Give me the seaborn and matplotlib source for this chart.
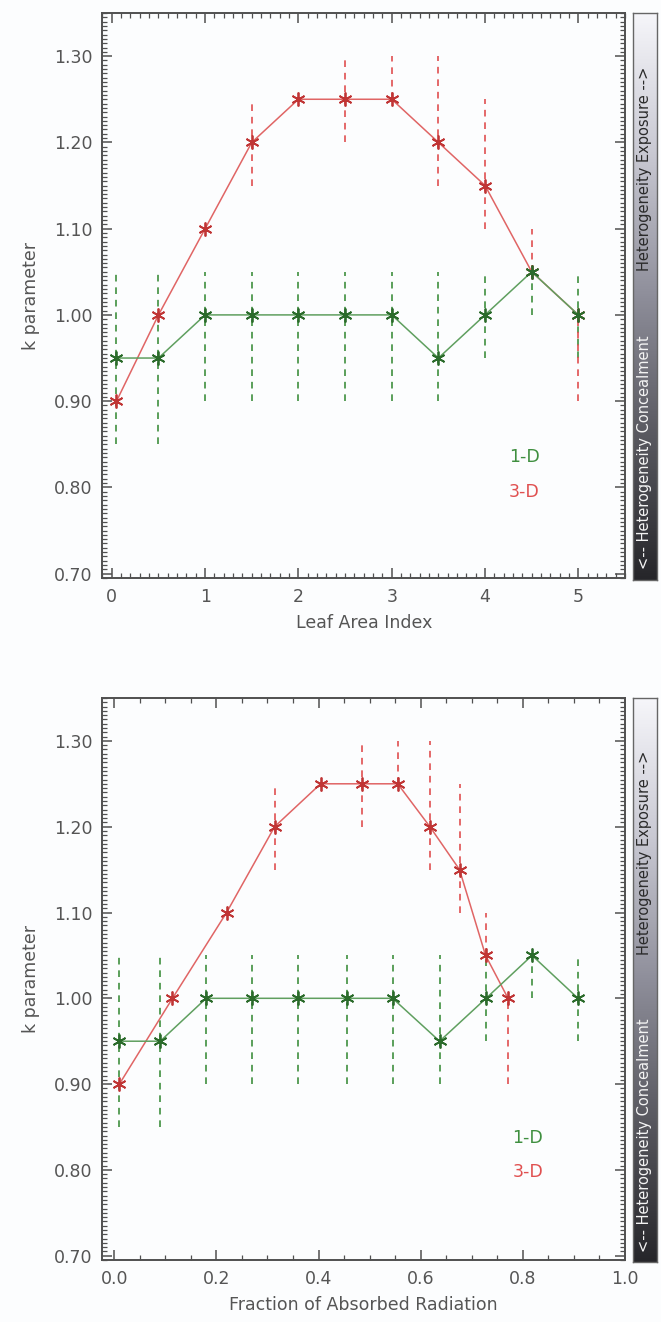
import numpy as np
import pandas as pd
import matplotlib
matplotlib.use("Agg")
import matplotlib.pyplot as plt
from matplotlib.ticker import MultipleLocator, FormatStrFormatter
from matplotlib.colors import LinearSegmentedColormap
import seaborn as sns

# ---------------- data ----------------
lai = [0.05, 0.5, 1.0, 1.5, 2.0, 2.5, 3.0, 3.5, 4.0, 4.5, 5.0]
k1d = [0.95, 0.95, 1.00, 1.00, 1.00, 1.00, 1.00, 0.95, 1.00, 1.05, 1.00]
k1d_lo = [0.85, 0.85, 0.90, 0.90, 0.90, 0.90, 0.90, 0.90, 0.95, 1.00, 0.95]
k1d_hi = [1.05, 1.05, 1.05, 1.05, 1.05, 1.05, 1.05, 1.05, 1.05, 1.05, 1.05]
k3d = [0.90, 1.00, 1.10, 1.20, 1.25, 1.25, 1.25, 1.20, 1.15, 1.05, 1.00]
k3d_lo = [0.90, 1.00, 1.10, 1.15, 1.25, 1.20, 1.25, 1.15, 1.10, 1.05, 0.90]
k3d_hi = [0.90, 1.00, 1.10, 1.25, 1.25, 1.30, 1.30, 1.30, 1.25, 1.10, 1.00]

far_1d = [0.01, 0.09, 0.18, 0.27, 0.36, 0.455, 0.545, 0.637, 0.728, 0.818, 0.908]
far_3d = [0.01, 0.114, 0.22, 0.314, 0.404, 0.485, 0.555, 0.618, 0.676, 0.727, 0.771]

y_ticks = [0.70, 0.80, 0.90, 1.00, 1.10, 1.20, 1.30]
cbar_top_text = "Heterogeneity Exposure -->"
cbar_bot_text = "<-- Heterogeneity Concealment"

# ---------------- style ----------------
sns.set_style("ticks")
plt.rcParams['font.family'] = ['DejaVu Sans']

GREEN_LINE = "#5f9f5f"
GREEN_MK = "#2b6b2b"
GREEN_ERR = "#3f8f3f"
RED_LINE = "#e06565"
RED_MK = "#c03535"
RED_ERR = "#e05050"
TXT = "#555555"
SPINE = "#505050"

W, H = 661, 1322
fig = plt.figure(figsize=(W / 100, H / 100), dpi=100)
fig.patch.set_facecolor("#fcfdfe")


def fx(px):
    return px / W


def fy(py_top, py_bot):
    return (H - py_bot) / H, (py_bot - py_top) / H


# top (light) -> bottom (dark)
cmap = LinearSegmentedColormap.from_list(
    "het", ["#f6f6fa", "#c8c8d2", "#8e8e9a", "#58585f", "#26262a"])


def panel(ax_rect, cb_rect, x1, x3, xlim, xmaj, xmin, xfmt, xlabel, leg_xy):
    ax = fig.add_axes(ax_rect)
    ax.set_facecolor("#fcfdfe")
    # error bars (min-max ranges)
    ax.vlines(x1, k1d_lo, k1d_hi, colors=GREEN_ERR, linestyles=(0, (4, 3.5)),
              linewidth=1.2, zorder=2)
    ax.vlines(x3, k3d_lo, k3d_hi, colors=RED_ERR, linestyles=(0, (4, 3.5)),
              linewidth=1.2, zorder=2)
    df1 = pd.DataFrame({"x": x1, "k": k1d})
    df3 = pd.DataFrame({"x": x3, "k": k3d})
    sns.lineplot(data=df3, x="x", y="k", ax=ax, color=RED_LINE, linewidth=1.1,
                 marker=(6, 2, 0), markersize=10, markeredgecolor=RED_MK,
                 markeredgewidth=1.3, zorder=3, estimator=None)
    sns.lineplot(data=df1, x="x", y="k", ax=ax, color=GREEN_LINE, linewidth=1.1,
                 marker=(6, 2, 0), markersize=10, markeredgecolor=GREEN_MK,
                 markeredgewidth=1.3, zorder=4, estimator=None)
    ax.set_xlim(*xlim)
    ax.set_ylim(0.695, 1.35)
    ax.set_yticks(y_ticks)
    ax.yaxis.set_major_formatter(FormatStrFormatter("%.2f"))
    ax.yaxis.set_minor_locator(MultipleLocator(0.005))
    ax.xaxis.set_major_locator(MultipleLocator(xmaj))
    ax.xaxis.set_minor_locator(MultipleLocator(xmin))
    ax.xaxis.set_major_formatter(FormatStrFormatter(xfmt))
    ax.tick_params(which="both", direction="in", top=True, right=True,
                   color=SPINE, labelcolor=TXT, labelsize=12.5)
    ax.tick_params(which="major", length=7, width=1.1, pad=7)
    ax.tick_params(which="minor", length=3.5, width=0.9)
    for s in ax.spines.values():
        s.set_visible(True)
        s.set_color(SPINE)
        s.set_linewidth(1.4)
    ax.set_xlabel(xlabel, fontsize=12.5, color=TXT, labelpad=6)
    ax.set_ylabel("k parameter", fontsize=12.5, color=TXT, labelpad=10)
    ax.text(leg_xy[0], leg_xy[1], "1-D", color=GREEN_ERR, fontsize=12.5,
            ha="center", va="center")
    ax.text(leg_xy[0], leg_xy[1] - 0.04, "3-D", color=RED_ERR, fontsize=12.5,
            ha="center", va="center")
    ax.grid(False)

    cax = fig.add_axes(cb_rect)
    grad = np.linspace(0, 1, 256).reshape(-1, 1)
    cax.imshow(grad, aspect="auto", cmap=cmap, origin="upper",
               extent=(0, 1, 0, 1))
    cax.set_xlim(0, 1)
    cax.set_ylim(0, 1)
    cax.set_xticks([])
    cax.set_yticks([])
    for s in cax.spines.values():
        s.set_color("#666666")
        s.set_linewidth(1.0)
    cax.text(0.5, 0.725, cbar_top_text, rotation=90, ha="center", va="center",
             fontsize=10.5, color="#2a2a2a", transform=cax.transAxes)
    cax.text(0.5, 0.225, cbar_bot_text, rotation=90, ha="center", va="center",
             fontsize=10.5, color="#f4f4f4", transform=cax.transAxes)
    return ax


# top panel
b, h = fy(13, 578)
cb_b, cb_h = fy(13, 580)
panel([fx(102.5), b, fx(625 - 102.5), h], [fx(633), cb_b, fx(24), cb_h],
      lai, lai, (-0.1, 5.5), 1, 0.1, "%d", "Leaf Area Index", (4.42, 0.835))

# bottom panel
b2, h2 = fy(698, 1260)
cb_b2, cb_h2 = fy(698, 1262)
panel([fx(102.5), b2, fx(625 - 102.5), h2], [fx(633), cb_b2, fx(24), cb_h2],
      far_1d, far_3d, (-0.023, 1.0), 0.2, 0.05, "%.1f",
      "Fraction of Absorbed Radiation", (0.81, 0.837))

fig.savefig("out.png", dpi=100, facecolor=fig.get_facecolor())
